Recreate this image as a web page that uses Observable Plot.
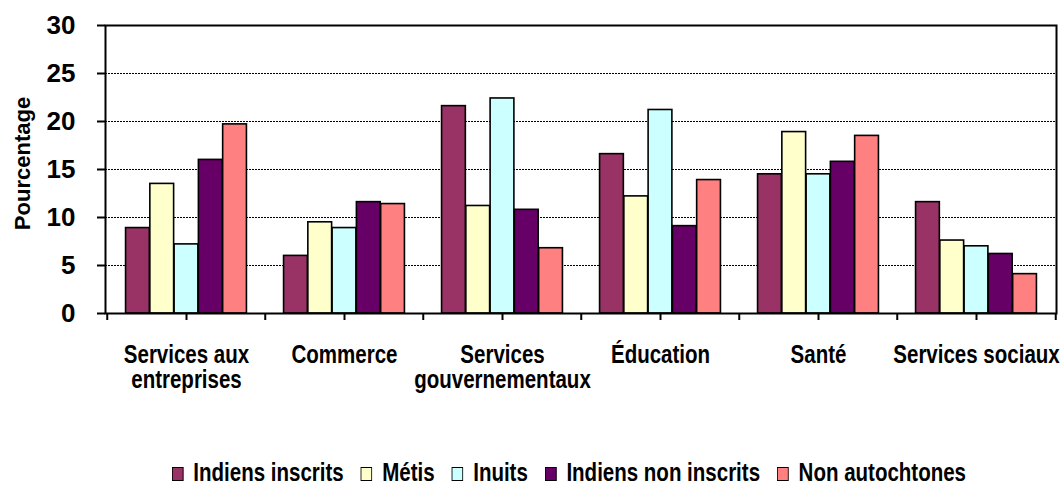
<!DOCTYPE html>
<html>
<head>
<meta charset="utf-8">
<script src="https://cdn.jsdelivr.net/npm/d3@7"></script>
<script src="https://cdn.jsdelivr.net/npm/@observablehq/plot@0.6"></script>
<style>
  html, body { margin: 0; padding: 0; background: #fff; }
  #chart { width: 1063px; height: 484px; overflow: hidden; }
  .legendwrap { width: 1063px; height: 38px; position: relative; }
  .legend { position: absolute; left: 569px; top: 0; height: 38px; display: flex; align-items: center; white-space: nowrap;
    transform: translateX(-50%) scaleX(0.82); transform-origin: center;
    font-family: "Liberation Sans", Arial, sans-serif; font-weight: bold; font-size: 25px; color: #000; padding-top: 14px; box-sizing: border-box; }
  .legend .item { display: flex; align-items: center; margin-right: 21px; }
  .legend .item:last-child { margin-right: 0; }
  .legend .sw { width: 12px; height: 12px; border: 1.6px solid #000; margin-right: 12px; margin-top: 3px; }
</style>
</head>
<body>
<div id="chart"></div>
<script>
// ---- data ----
const categories = ["Services aux\nentreprises", "Commerce", "Services\ngouvernementaux", "Éducation", "Santé", "Services sociaux"];
const seriesNames = ["Indiens inscrits", "Métis", "Inuits", "Indiens non inscrits", "Non autochtones"];
const indiensInscrits   = [8.9, 6.0, 21.6, 16.6, 14.5, 11.6];
const metis             = [13.5, 9.5, 11.2, 12.2, 18.9, 7.6];
const inuits            = [7.2, 8.9, 22.4, 21.2, 14.5, 7.0];
const indiensNonInscrits= [16.0, 11.6, 10.8, 9.1, 15.8, 6.2];
const nonAutochtones    = [19.7, 11.4, 6.8, 13.9, 18.5, 4.1];
const yTicks = [0, 5, 10, 15, 20, 25, 30];
const colors = ["#993366", "#FFFFCC", "#CCFFFF", "#660066", "#FF8080"];

const seriesValues = [indiensInscrits, metis, inuits, indiensNonInscrits, nonAutochtones];
const rows = [];
seriesNames.forEach((s, j) => categories.forEach((c, i) => rows.push({category: c, series: s, value: seriesValues[j][i]})));

// ---- layout ----
const W = 1063, H = 446;
const mL = 105, mR = 7, mT = 25, mB = H - 313;
const step = (W - mL - mR) / categories.length;
const sub = d3.scaleBand().domain(seriesNames).range([0, step]).paddingInner(0).paddingOuter(0.765);

const barMarks = seriesNames.map(s => Plot.barY(rows.filter(r => r.series === s), {
  x: "category", y: "value", fill: "series", stroke: "black", strokeWidth: 1.6,
  insetLeft: sub(s), insetRight: step - sub(s) - sub.bandwidth()
}));

const chart = Plot.plot({
  width: W, height: H,
  marginLeft: mL, marginRight: mR, marginTop: mT, marginBottom: mB,
  style: {fontFamily: '"Liberation Sans", Arial, sans-serif', background: "white", overflow: "visible"},
  x: {domain: categories, padding: 0},
  y: {domain: [0, 30]},
  color: {domain: seriesNames, range: colors},
  marks: [
    Plot.gridY(yTicks.filter(t => t > 0 && t < 30), {stroke: "black", strokeOpacity: 1, strokeWidth: 1, strokeDasharray: "2,1"}),
    ...barMarks,
    Plot.frame({stroke: "black", strokeWidth: 2}),
    Plot.ruleX(categories, {x: d => d, dx: -step / 2, y1: 0, y2: 0, insetBottom: -7, stroke: "black", strokeWidth: 2}),
    Plot.ruleX(categories.slice(-1), {x: d => d, dx: step / 2, y1: 0, y2: 0, insetBottom: -7, stroke: "black", strokeWidth: 2}),
    Plot.axisY({ticks: yTicks, tickSize: 8, tickPadding: 22, fontSize: 26, fontWeight: "bold", label: null, strokeWidth: 2}),
    Plot.axisX({tickSize: 7, tickPadding: 24, fontSize: 25, fontWeight: "bold", lineHeight: 1.02, label: null, strokeWidth: 2}),
    Plot.text(["Pourcentage"], {text: d => d, frameAnchor: "left", textAnchor: "middle", rotate: -90, dx: -83, dy: -6, fontSize: 22, fontWeight: "bold"})
  ]
});

const root = document.getElementById("chart");
root.appendChild(chart);

// condense the category labels (narrow font look) while keeping them as real text
const xLabelGroup = chart.querySelector('g[aria-label="x-axis tick label"]');
if (xLabelGroup) {
  xLabelGroup.querySelectorAll("text").forEach(t => {
    const parts = t.querySelectorAll("tspan");
    const els = parts.length ? Array.from(parts) : [t];
    els.forEach(el => {
      const len = el.getComputedTextLength();
      el.setAttribute("textLength", (len * 0.82).toFixed(1));
      el.setAttribute("lengthAdjust", "spacingAndGlyphs");
    });
  });
}

const wrap = document.createElement("div");
wrap.className = "legendwrap";
const legend = document.createElement("div");
legend.className = "legend";
seriesNames.forEach((s, j) => {
  const it = document.createElement("div");
  it.className = "item";
  const sw = document.createElement("span");
  sw.className = "sw";
  sw.style.background = colors[j];
  const tx = document.createElement("span");
  tx.textContent = s;
  it.appendChild(sw); it.appendChild(tx);
  legend.appendChild(it);
});
wrap.appendChild(legend);
root.appendChild(wrap);
</script>
</body>
</html>
